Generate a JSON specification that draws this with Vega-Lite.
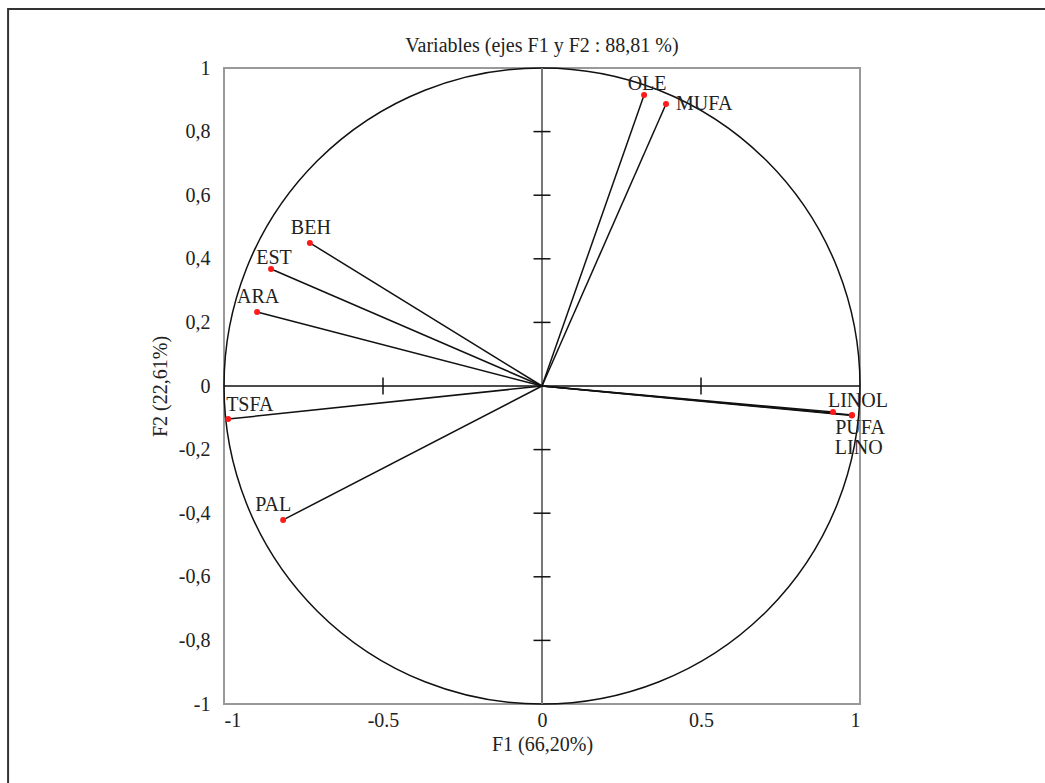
{
  "$schema": "https://vega.github.io/schema/vega-lite/v6.json",
  "width": 636,
  "height": 636,
  "autosize": {"type": "none"},
  "padding": {"left": 224, "top": 68, "right": 185, "bottom": 79},
  "background": "white",
  "title": {"text": "Variables (ejes F1 y F2 : 88,81 %)", "font": "Liberation Serif", "fontSize": 20, "fontWeight": "normal", "color": "#222", "offset": -48, "frame": "group"},
  "config": {"view": {"stroke": "#999", "strokeWidth": 2}},
  "datasets": {
    "vars": [
      {"name": "OLE", "F1": 0.321, "F2": 0.915},
      {"name": "MUFA", "F1": 0.390, "F2": 0.887},
      {"name": "BEH", "F1": -0.730, "F2": 0.450},
      {"name": "EST", "F1": -0.852, "F2": 0.368},
      {"name": "ARA", "F1": -0.896, "F2": 0.233},
      {"name": "TSFA", "F1": -0.987, "F2": -0.104},
      {"name": "PAL", "F1": -0.814, "F2": -0.421},
      {"name": "LINOL", "F1": 0.915, "F2": -0.082},
      {"name": "PUFA", "F1": 0.975, "F2": -0.091},
      {"name": "LINO", "F1": 0.974, "F2": -0.093}
    ],
    "yticks": [
      {"F1": 0, "F2": -0.8}, {"F1": 0, "F2": -0.6}, {"F1": 0, "F2": -0.4}, {"F1": 0, "F2": -0.2},
      {"F1": 0, "F2": 0.2}, {"F1": 0, "F2": 0.4}, {"F1": 0, "F2": 0.6}, {"F1": 0, "F2": 0.8}
    ],
    "xticks": [{"F1": -0.5, "F2": 0}, {"F1": 0.5, "F2": 0}],
    "origin": [{"F1": 0, "F2": 0}]
  },
  "data": {"name": "vars"},
  "encoding": {
    "x": {
      "field": "F1", "type": "quantitative",
      "scale": {"domain": [-1, 1], "nice": false, "zero": false},
      "axis": {
        "title": "F1 (66,20%)", "values": [-1, -0.5, 0, 0.5, 1],
        "labelExpr": "replace(format(datum.value, '.1~f'), '\u2212', '-')",
        "domain": false, "ticks": false, "grid": false, "labelPadding": 6,
        "labelFont": "Liberation Serif", "labelFontSize": 20, "labelColor": "#222",
        "titleFont": "Liberation Serif", "titleFontSize": 20, "titleFontWeight": "normal", "titleColor": "#222", "titlePadding": 4
      }
    },
    "y": {
      "field": "F2", "type": "quantitative",
      "scale": {"domain": [-1, 1], "nice": false, "zero": false},
      "axis": {
        "title": "F2 (22,61%)", "values": [-1, -0.8, -0.6, -0.4, -0.2, 0, 0.2, 0.4, 0.6, 0.8, 1],
        "labelExpr": "replace(replace(format(datum.value, '.1~f'), '\u2212', '-'), '.', ',')",
        "domain": false, "ticks": false, "grid": false, "labelPadding": 14,
        "labelFont": "Liberation Serif", "labelFontSize": 20, "labelColor": "#222",
        "titleFont": "Liberation Serif", "titleFontSize": 20, "titleFontWeight": "normal", "titleColor": "#222", "titlePadding": 8
      }
    }
  },
  "layer": [
    {
      "data": {"name": "origin"},
      "mark": {"type": "rect", "fill": null, "stroke": "#333", "strokeWidth": 2, "clip": false},
      "encoding": {
        "x": {"datum": -1.679},
        "x2": {"datum": 2.2},
        "y": {"datum": 1.1855},
        "y2": {"datum": -1.6}
      }
    },
    {
      "data": {"name": "origin"},
      "mark": {"type": "point", "shape": "circle", "size": 404496, "filled": false, "stroke": "#111", "strokeWidth": 1.5, "opacity": 1}
    },
    {
      "data": {"name": "origin"},
      "mark": {"type": "rule", "color": "#111", "strokeWidth": 1.5},
      "encoding": {"x": {"datum": -1}, "x2": {"datum": 1}, "y": {"datum": 0}}
    },
    {
      "data": {"name": "origin"},
      "mark": {"type": "rule", "color": "#777", "strokeWidth": 2},
      "encoding": {"x": {"datum": 0}, "y": {"datum": -1}, "y2": {"datum": 1}}
    },
    {
      "data": {"name": "yticks"},
      "mark": {"type": "tick", "orient": "horizontal", "size": 17, "thickness": 1.5, "color": "#111", "opacity": 1}
    },
    {
      "data": {"name": "xticks"},
      "mark": {"type": "tick", "orient": "vertical", "size": 17, "thickness": 1.5, "color": "#111", "opacity": 1}
    },
    {
      "mark": {"type": "rule", "color": "#111", "strokeWidth": 1.5},
      "encoding": {"x2": {"datum": 0}, "y2": {"datum": 0}}
    },
    {
      "mark": {"type": "point", "shape": "circle", "size": 36, "filled": true, "color": "#ff1a1a", "opacity": 1}
    },
    {
      "transform": [{"filter": {"field": "name", "oneOf": ["OLE", "EST"]}}],
      "mark": {"type": "text", "dx": 3, "dy": -11, "font": "Liberation Serif", "fontSize": 20, "color": "#222"},
      "encoding": {"text": {"field": "name"}}
    },
    {
      "transform": [{"filter": {"field": "name", "oneOf": ["BEH", "ARA"]}}],
      "mark": {"type": "text", "dx": 1, "dy": -15, "font": "Liberation Serif", "fontSize": 20, "color": "#222"},
      "encoding": {"text": {"field": "name"}}
    },
    {
      "transform": [{"filter": {"field": "name", "equal": "PAL"}}],
      "mark": {"type": "text", "dx": -10, "dy": -15, "font": "Liberation Serif", "fontSize": 20, "color": "#222"},
      "encoding": {"text": {"field": "name"}}
    },
    {
      "transform": [{"filter": {"field": "name", "equal": "TSFA"}}],
      "mark": {"type": "text", "align": "left", "dx": -2, "dy": -14, "font": "Liberation Serif", "fontSize": 20, "color": "#222"},
      "encoding": {"text": {"field": "name"}}
    },
    {
      "transform": [{"filter": {"field": "name", "equal": "MUFA"}}],
      "mark": {"type": "text", "align": "left", "dx": 10, "dy": 0, "font": "Liberation Serif", "fontSize": 20, "color": "#222"},
      "encoding": {"text": {"field": "name"}}
    },
    {
      "transform": [{"filter": {"field": "name", "equal": "LINOL"}}],
      "mark": {"type": "text", "dx": 25, "dy": -11, "font": "Liberation Serif", "fontSize": 20, "color": "#222"},
      "encoding": {"text": {"field": "name"}}
    },
    {
      "transform": [{"filter": {"field": "name", "equal": "PUFA"}}],
      "mark": {"type": "text", "dx": 8, "dy": 13, "font": "Liberation Serif", "fontSize": 20, "color": "#222"},
      "encoding": {"text": {"field": "name"}}
    },
    {
      "transform": [{"filter": {"field": "name", "equal": "LINO"}}],
      "mark": {"type": "text", "dx": 7, "dy": 32, "font": "Liberation Serif", "fontSize": 20, "color": "#222"},
      "encoding": {"text": {"field": "name"}}
    }
  ]
}
